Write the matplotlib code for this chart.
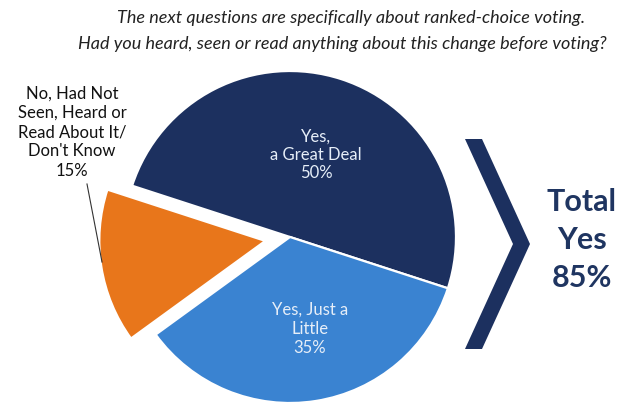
import matplotlib
matplotlib.use("Agg")
import matplotlib.pyplot as plt
from matplotlib.patches import Polygon

plt.rcParams['font.family'] = ['Lato', 'DejaVu Sans']

# Survey responses
categories = ["Yes,\na Great Deal", "Yes, Just a\nLittle",
              "No, Had Not\nSeen, Heard or\nRead About It/\nDon't Know"]
shares = [50, 35, 15]
colors = ["#1C305F", "#3A83D1", "#E8761B"]
total_yes = shares[0] + shares[1]

title_lines = ["The next questions are specifically about ranked-choice voting.",
               "Had you heard, seen or read anything about this change before voting?"]

W, H = 631, 406
fig = plt.figure(figsize=(W / 100, H / 100), dpi=100)
ax = fig.add_axes([0, 0, 1, 1])

def Y(py):
    return H - py

# Pie (explode offsets are in data units here)
wedges, _ = ax.pie(shares, colors=colors, startangle=162, counterclock=False,
                   explode=[0, 0, 25], center=(290, Y(238)), radius=166,
                   wedgeprops=dict(edgecolor="white", linewidth=1.6))

ax.set_xlim(0, W)
ax.set_ylim(0, H)
ax.set_aspect('equal')
ax.axis('off')

# Slice labels
ax.text(316, Y(155), f"{categories[0]}\n{shares[0]}%", ha='center', va='center',
        color="#E6EEF8", fontsize=12, linespacing=1.17)
ax.text(310, Y(329), f"{categories[1]}\n{shares[1]}%", ha='center', va='center',
        color="#E6EEF8", fontsize=12, linespacing=1.25)
ax.text(72, Y(132), f"{categories[2]}\n{shares[2]}%", ha='center', va='center',
        color="#111111", fontsize=12, linespacing=1.26)

# Leader line from the outside label to its slice
ax.plot([87, 102], [Y(185), Y(263)], color="#333333", linewidth=0.8)

# Chevron bracket
chevron = Polygon([(465, Y(140)), (482, Y(140)), (530, Y(245)),
                   (482, Y(350)), (465, Y(350)), (513, Y(245))],
                  closed=True, facecolor="#1C305F", edgecolor="none")
ax.add_patch(chevron)

ax.text(582, Y(240), f"Total\nYes\n{total_yes}%", ha='center', va='center',
        color="#1F3561", fontsize=22, fontweight='bold', linespacing=1.42)

# Title
ax.text(351, Y(18), title_lines[0], ha='center', va='center',
        fontsize=13, style='italic', color="#222222")
ax.text(342, Y(44), title_lines[1], ha='center', va='center',
        fontsize=13, style='italic', color="#222222")

fig.savefig("out.png", dpi=100)
